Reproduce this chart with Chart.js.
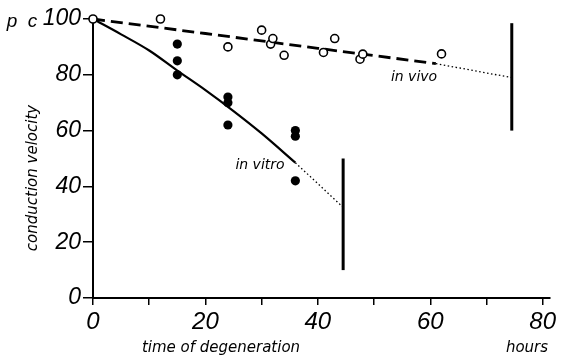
<!DOCTYPE html>
<html>
<head>
<meta charset="utf-8">
<script src="https://cdn.jsdelivr.net/npm/chart.js@4/dist/chart.umd.min.js"></script>
<style>
html,body{margin:0;padding:0;background:#fff;}
canvas{display:block;}
</style>
</head>
<body>
<canvas id="c" width="569" height="360"></canvas>
<script>
// ---- data ----
const vivoX = [0, 12, 24, 30, 31.6, 32, 34, 41, 43, 47.5, 48, 62];
const vivoY = [100, 100, 90, 96, 91, 93, 87, 88, 93, 85.6, 87.4, 87.5];
const vitroX = [15, 15, 15, 24, 24, 24, 36, 36, 36];
const vitroY = [91, 85, 80, 72, 70, 62, 60, 58, 42];
const vivoFitX = [0, 20, 40, 61];
const vivoFitY = [100, 94.8, 89.5, 84];
const vivoExtX = [61, 74.5];
const vivoExtY = [84, 79];
const vitroFitX = [0, 5, 10, 15, 20, 25, 30, 36];
const vitroFitY = [100, 94.5, 88.7, 81.5, 74.5, 67, 59, 48.5];
const vitroExtX = [36, 44.5];
const vitroExtY = [48.5, 32.5];
const vitroBarX = [44.5, 44.5];
const vitroBarY = [10, 50];
const vivoBarX = [74.5, 74.5];
const vivoBarY = [60, 98.5];
const xTicks = [0, 10, 20, 30, 40, 50, 60, 70, 80];
const xTickLabels = ['0', '', '20', '', '40', '', '60', '', '80'];
const yTicks = [0, 20, 40, 60, 80, 100];
const yTickLabels = ['0', '20', '40', '60', '80', '100'];

const pts = (xs, ys) => xs.map((x, i) => ({x: x, y: ys[i]}));

const FONT = '"DejaVu Sans", sans-serif';
const TICKFONT = '"Liberation Sans", sans-serif';

const textPlugin = {
  id: 'texts',
  afterDraw(chart) {
    const ctx = chart.ctx;
    ctx.save();
    ctx.fillStyle = '#000';
    ctx.textAlign = 'center';
    ctx.textBaseline = 'middle';
    ctx.font = 'italic 19px ' + TICKFONT;
    ctx.fillText('p  c', 22, 22);
    ctx.font = 'italic 15px ' + FONT;
    ctx.fillText('time of degeneration', 221, 348);
    ctx.fillText('hours', 527, 348);
    ctx.font = 'italic 14px ' + FONT;
    ctx.fillText('in vivo', 414, 77);
    ctx.fillText('in vitro', 260, 165);
    ctx.translate(33, 178);
    ctx.rotate(-Math.PI / 2);
    ctx.font = 'italic 15px ' + FONT;
    ctx.fillText('conduction velocity', 0, 0);
    ctx.restore();
  }
};

new Chart(document.getElementById('c'), {
  type: 'scatter',
  data: {
    datasets: [
      {data: pts(vivoX, vivoY), pointRadius: 4, pointBorderWidth: 1.6, pointBackgroundColor: '#fff', pointBorderColor: '#000', showLine: false, order: 0, clip: false},
      {data: pts(vitroX, vitroY), pointRadius: 4.6, pointBorderWidth: 0, pointBackgroundColor: '#000', pointBorderColor: '#000', showLine: false, order: 0, clip: false},
      {data: pts(vivoFitX, vivoFitY), showLine: true, pointRadius: 0, borderColor: '#000', borderWidth: 2.8, borderDash: [12, 6], order: 2, clip: false},
      {data: pts(vivoExtX, vivoExtY), showLine: true, pointRadius: 0, borderColor: '#000', borderWidth: 1.3, borderDash: [1.5, 2.5], order: 2, clip: false},
      {data: pts(vitroFitX, vitroFitY), showLine: true, pointRadius: 0, borderColor: '#000', borderWidth: 2.2, tension: 0.4, cubicInterpolationMode: 'monotone', order: 2, clip: false},
      {data: pts(vitroExtX, vitroExtY), showLine: true, pointRadius: 0, borderColor: '#000', borderWidth: 1.3, borderDash: [1.5, 2.5], order: 2, clip: false},
      {data: pts(vitroBarX, vitroBarY), showLine: true, pointRadius: 0, borderColor: '#000', borderWidth: 3, order: 2, clip: false},
      {data: pts(vivoBarX, vivoBarY), showLine: true, pointRadius: 0, borderColor: '#000', borderWidth: 3, order: 2, clip: false}
    ]
  },
  options: {
    responsive: false,
    animation: false,
    events: [],
    layout: {padding: {left: 0, right: 19, top: 19, bottom: 0}},
    plugins: {legend: {display: false}, tooltip: {enabled: false}},
    scales: {
      x: {
        type: 'linear', min: 0, max: 81.3,
        afterBuildTicks: s => { s.ticks = xTicks.map(v => ({value: v})); },
        afterFit: s => { s.height = 62; },
        ticks: {
          color: '#000', padding: 3, maxRotation: 0, autoSkip: false,
          font: {family: TICKFONT, size: 24, style: 'italic'},
          callback: (v) => xTickLabels[xTicks.indexOf(v)]
        },
        grid: {drawOnChartArea: false, drawTicks: true, tickLength: 7, color: '#000', lineWidth: 1.5},
        border: {display: true, color: '#000', width: 2}
      },
      y: {
        type: 'linear', min: 0, max: 100,
        afterBuildTicks: s => { s.ticks = yTicks.map(v => ({value: v})); },
        afterFit: s => { s.width = 93; },
        ticks: {
          color: '#000', padding: 2, autoSkip: false,
          font: {family: TICKFONT, size: 23, style: 'italic'},
          callback: (v) => yTickLabels[yTicks.indexOf(v)]
        },
        grid: {drawOnChartArea: false, drawTicks: true, tickLength: 10, color: '#000', lineWidth: 1.5},
        border: {display: true, color: '#000', width: 2}
      }
    }
  },
  plugins: [textPlugin]
});
</script>
</body>
</html>
